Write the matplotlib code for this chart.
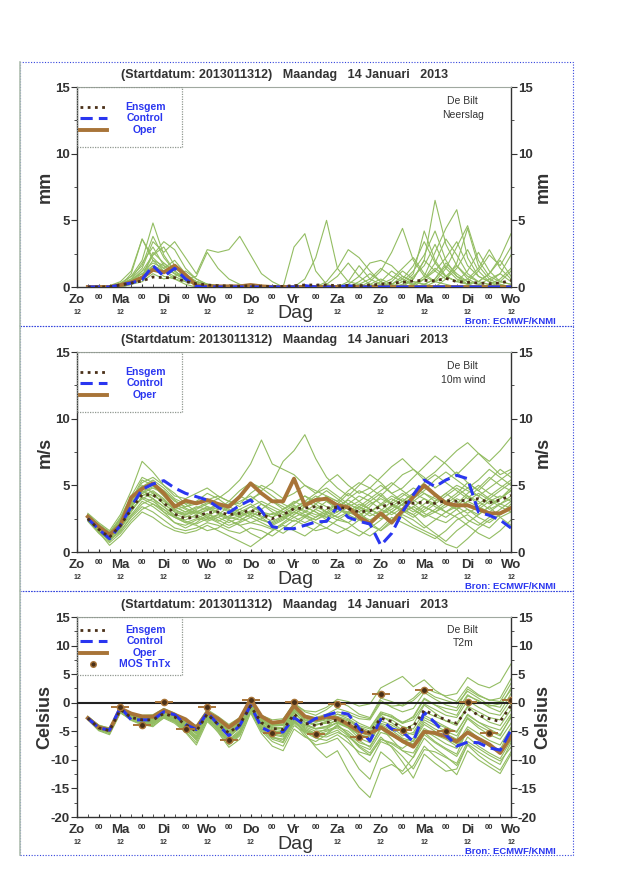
import matplotlib
matplotlib.use("Agg")
import matplotlib.pyplot as plt
from matplotlib.patches import Rectangle
from matplotlib.lines import Line2D
from matplotlib.transforms import blended_transform_factory
import numpy as np

plt.rcParams['font.family'] = ['Liberation Sans', 'DejaVu Sans']
plt.rcParams['axes.unicode_minus'] = False

# forecast hours (6-hourly from start 2013011312)
hours = np.arange(6, 241, 6)
tick_hours = np.arange(0, 241, 12)
day_names = ['Zo', 'Ma', 'Di', 'Wo', 'Do', 'Vr', 'Za', 'Zo', 'Ma', 'Di', 'Wo']

title = '(Startdatum: 2013011312)   Maandag   14 Januari   2013'

# ---------------- Neerslag (mm) ----------------
rain_members = [
    [0, 0, 0, 0.2, 0.8, 2.0, 4.8, 2.4, 1.2, 0.6, 0.2, 0.1, 0, 0, 0, 0, 0, 0, 0, 0,
     0, 0, 0, 0, 0, 0, 0, 0.2, 0.6, 1.4, 2.2, 1.0, 0.4, 0.8, 1.6, 0.6, 0.2, 0, 0.4, 1.2],
    [0, 0, 0.1, 0.4, 1.2, 3.6, 2.2, 1.4, 2.0, 1.0, 0.4, 0.2, 0.1, 0, 0, 0, 0, 0, 0, 0,
     0, 0, 0, 0, 0, 0, 0.4, 1.2, 2.6, 4.4, 2.0, 0.8, 0.4, 0.2, 0, 0, 0, 0, 0, 0],
    [0, 0, 0, 0.1, 0.6, 1.4, 3.4, 2.6, 3.4, 2.2, 1.0, 2.8, 2.6, 2.8, 3.8, 2.4, 1.0, 0.4, 0, 0,
     0, 0, 0, 0, 0, 0, 0, 0, 0, 0, 0.2, 0.6, 1.4, 0.8, 0.4, 0.2, 0, 0, 0, 0],
    [0, 0, 0, 0, 0.2, 0.6, 1.6, 1.2, 0.8, 0.4, 0.2, 0, 0, 0, 0, 0, 0, 0, 0, 3.0,
     4.0, 1.2, 0.2, 0, 0, 0.4, 1.0, 0.4, 0, 0, 0, 0.6, 1.8, 3.6, 2.4, 1.0, 0.4, 0.2, 0, 0],
    [0, 0, 0, 0.2, 0.4, 0.8, 2.6, 1.8, 1.2, 0.6, 0.2, 0, 0, 0, 0, 0, 0, 0, 0, 0,
     0.6, 2.2, 5.0, 1.4, 0.4, 0.2, 0, 0, 0.4, 1.2, 0.6, 2.0, 6.5, 3.2, 1.6, 0.8, 0.4, 1.0, 2.2, 4.0],
    [0, 0, 0, 0.1, 1.0, 3.6, 2.0, 1.2, 0.6, 0.2, 0, 0, 0, 0, 0, 0, 0, 0, 0, 0,
     0, 0, 0.4, 1.4, 2.8, 2.2, 1.2, 0.4, 0, 0, 0.2, 0.8, 2.6, 4.4, 5.8, 2.2, 0.8, 0.4, 0.2, 0],
    [0, 0, 0, 0, 0.2, 0.8, 2.4, 3.4, 2.8, 1.4, 0.6, 0.2, 0, 0, 0, 0, 0, 0, 0, 0,
     0, 0, 0, 0, 0.2, 0.8, 1.8, 2.0, 1.6, 0.8, 0.4, 0.2, 0, 0.6, 1.8, 4.4, 1.6, 0.6, 0.2, 0],
    [0, 0, 0, 0.1, 0.4, 1.2, 1.8, 1.4, 1.0, 0.8, 0.4, 0.2, 0.1, 0, 0, 0, 0, 0, 0, 0,
     0, 0, 0, 0, 0, 0, 0, 0, 0.2, 0.6, 1.6, 3.4, 1.8, 0.8, 0.4, 0.6, 1.4, 2.8, 1.4, 0.6],
    [0, 0, 0, 0.3, 0.8, 1.6, 3.8, 2.2, 1.2, 0.6, 0.2, 0.1, 0, 0, 0, 0, 0, 0, 0, 0,
     0, 0, 0, 0, 0, 0, 0, 0.4, 1.2, 0.6, 0.2, 0, 0.4, 1.4, 3.0, 4.6, 2.0, 0.8, 0.4, 0.2],
    [0, 0, 0, 0.2, 0.6, 1.0, 1.4, 0.8, 0.6, 0.4, 0.2, 0.1, 0, 0, 0, 0, 0, 0, 0, 0,
     0, 0, 0, 0, 0, 0, 0, 0, 0, 0.4, 1.2, 2.4, 4.2, 2.0, 0.8, 0.2, 0, 0.2, 0.6, 1.4],
    [0, 0, 0, 0, 0.2, 0.4, 1.0, 0.6, 0.8, 1.2, 0.6, 0.2, 0, 0, 0, 0, 0, 0, 0, 0,
     0, 0, 0, 0, 0, 0, 0, 0, 0, 0, 0, 0.2, 0.6, 1.6, 0.8, 0.4, 1.2, 2.4, 1.6, 3.0],
    [0, 0, 0, 0.1, 0.4, 0.8, 2.0, 1.6, 1.0, 0.6, 0.4, 0.2, 0.1, 0, 0, 0, 0, 0, 0, 0,
     0, 0, 0, 0, 0.4, 1.6, 0.6, 0.2, 0, 0, 0.6, 2.0, 1.2, 0.6, 1.4, 2.8, 1.2, 0.4, 0, 0],
    [0, 0, 0, 0.1, 0.5, 1.2, 2.4, 3.0, 1.6, 0.8,
     0.4, 0.2, 0, 0, 0, 0, 0, 0, 0, 0,
     0, 0, 0, 0, 0, 0, 0, 0, 0.2, 0.8,
     0.4, 0.2, 0.6, 1.8, 1.0, 0.4, 0.2, 0.6, 1.0, 0.4],
    [0, 0, 0, 0.2, 0.6, 1.8, 3.0, 1.6, 1.0, 0.6,
     0.8, 2.6, 1.4, 0.6, 0.2, 0, 0, 0, 0, 0,
     0, 0, 0, 0, 0, 0, 0.2, 0.6, 0.2, 0,
     0.8, 1.6, 3.2, 1.4, 0.6, 0.2, 0.4, 1.0, 2.0, 0.8],
    [0, 0, 0, 0.1, 0.4, 1.0, 1.6, 1.2, 1.4, 0.8,
     0.3, 0.1, 0, 0, 0, 0, 0, 0, 0, 0,
     0, 0, 0.2, 0.8, 1.8, 0.8, 0.2, 0, 0, 0.2,
     1.0, 4.2, 2.0, 0.8, 0.4, 1.2, 2.6, 1.2, 0.4, 0.2],
    [0, 0, 0, 0, 0.3, 0.6, 1.2, 1.8, 1.0, 0.5,
     0.2, 0, 0, 0, 0, 0, 0, 0, 0, 0,
     0, 0, 0, 0, 0, 0.2, 0.6, 1.4, 0.8, 0.4,
     0.2, 0.6, 1.2, 2.2, 3.4, 1.6, 0.8, 0.4, 1.0, 2.4],
]
rain_mean = [0, 0, 0.02, 0.15, 0.3, 0.45, 0.75, 0.7, 0.7, 0.4,
             0.25, 0.15, 0.1, 0.08, 0.05, 0.1, 0.05, 0.03, 0.05, 0.1,
             0.15, 0.15, 0.15, 0.1, 0.12, 0.1, 0.15, 0.2, 0.3, 0.35,
             0.45, 0.5, 0.45, 0.65, 0.4, 0.35, 0.3, 0.25, 0.3, 0.5]
rain_control = [0, 0, 0, 0.15, 0.3, 0.55, 1.6, 0.8, 1.4, 0.6,
                0.05, 0, 0, 0, 0, 0, 0, 0, 0, 0,
                0.1, 0, 0, 0, 0.1, 0, 0, 0, 0, 0,
                0, 0, 0, 0, 0, 0, 0, 0, 0, 0]
rain_oper = [0, 0, 0, 0.15, 0.35, 0.7, 1.3, 1.1, 1.6, 0.9,
             0.1, 0.05, 0.05, 0.05, 0.05, 0.15, 0.05, 0, 0, 0,
             0, 0, 0, 0, 0, 0, 0, 0, 0, 0,
             0, 0, 0, 0, 0, 0, 0, 0, 0, 0]

# ---------------- 10m wind (m/s) ----------------
wind_members = [
    [2.8, 2.0, 1.4, 2.6, 4.2, 5.6, 5.2, 4.6, 3.8, 3.4, 3.6, 3.9, 4.2, 3.8, 3.6, 4.4, 5.0, 4.6, 4.0, 4.4,
     5.0, 4.6, 4.2, 3.8, 4.6, 5.2, 4.8, 4.2, 5.0, 5.8, 6.2, 5.6, 4.8, 5.4, 6.0, 5.2, 4.6, 5.4, 6.2, 5.6],
    [2.4, 1.5, 0.9, 1.6, 2.6, 3.4, 3.0, 2.4, 1.8, 1.6, 1.8, 2.2, 2.0, 1.6, 1.4, 1.8, 1.6, 1.2, 1.8, 2.4,
     2.0, 1.6, 1.8, 2.4, 2.2, 1.6, 1.2, 1.8, 2.6, 2.2, 1.8, 1.4, 1.0, 1.6, 2.4, 2.8, 2.2, 1.8, 2.6, 3.0],
    [2.6, 1.8, 1.2, 2.2, 3.8, 5.0, 4.4, 3.6, 3.0, 2.8, 3.2, 3.6, 4.0, 4.6, 5.4, 6.6, 8.4, 6.6, 6.2, 5.8,
     5.0, 4.4, 4.8, 4.2, 3.6, 3.2, 3.8, 4.4, 3.6, 3.0, 3.4, 4.0, 3.6, 3.0, 3.4, 4.2, 3.8, 3.2, 3.6, 4.0],
    [2.5, 1.6, 1.0, 1.8, 3.0, 4.2, 4.6, 4.0, 3.2, 2.8, 3.0, 3.4, 3.2, 3.6, 4.2, 3.8, 4.6, 5.2, 6.8, 7.6,
     8.8, 7.0, 5.6, 4.8, 4.2, 5.0, 5.8, 5.2, 4.4, 4.8, 5.6, 6.4, 7.2, 6.6, 5.8, 6.6, 7.4, 6.8, 7.6, 8.6],
    [2.3, 1.4, 0.7, 1.4, 2.4, 3.2, 3.6, 3.2, 2.6, 2.2, 2.0, 1.6, 1.8, 2.4, 2.0, 1.4, 1.0, 1.6, 2.2, 2.8,
     3.4, 3.0, 2.4, 2.8, 3.4, 3.0, 2.2, 1.6, 2.4, 3.2, 2.8, 2.0, 1.4, 0.8, 1.6, 2.2, 2.8, 3.4, 2.6, 2.0],
    [2.9, 2.2, 1.6, 2.8, 4.6, 6.8, 6.0, 5.0, 4.2, 4.0, 4.4, 4.8, 4.2, 3.8, 4.6, 5.2, 4.8, 4.2, 3.6, 3.2,
     3.8, 4.4, 5.2, 5.8, 5.0, 4.4, 4.8, 5.6, 6.4, 7.0, 6.2, 5.4, 6.0, 6.8, 7.6, 8.2, 7.4, 6.6, 5.8, 6.2],
    [2.7, 1.9, 1.3, 2.4, 3.6, 4.6, 4.0, 3.0, 2.2, 1.8, 2.2, 2.8, 2.6, 2.2, 2.6, 3.0, 2.6, 2.0, 2.4, 3.0,
     2.6, 3.2, 3.8, 3.4, 2.8, 2.4, 3.0, 3.6, 4.2, 3.8, 3.2, 2.6, 3.0, 3.6, 3.2, 2.4, 2.0, 2.6, 3.2, 3.8],
    [2.5, 1.7, 1.2, 2.2, 3.4, 4.8, 5.0, 4.2, 3.4, 3.0, 3.4, 3.2, 3.6, 3.2, 2.8, 3.4, 3.0, 2.6, 3.2, 3.8,
     3.4, 3.0, 2.6, 3.2, 4.0, 4.6, 4.2, 3.6, 3.0, 3.6, 4.2, 4.8, 4.4, 3.8, 4.4, 5.2, 4.6, 4.0, 4.6, 5.2],
    [2.4, 1.6, 1.0, 1.8, 2.8, 3.8, 3.4, 2.8, 2.2, 2.0, 2.4, 2.6, 2.2, 1.8, 2.2, 2.6, 2.2, 1.8, 1.4, 2.0,
     2.6, 2.2, 1.8, 1.4, 1.8, 2.4, 2.0, 1.6, 2.2, 2.8, 2.4, 1.8, 2.4, 3.0, 2.6, 2.0, 1.4, 1.0, 1.6, 2.4],
    [2.6, 1.8, 1.1, 2.0, 3.4, 4.4, 4.8, 4.4, 3.6, 3.2, 2.8, 2.4, 2.8, 3.4, 3.0, 2.6, 3.2, 3.8, 3.4, 2.8,
     3.4, 4.0, 4.6, 4.0, 3.4, 3.8, 4.4, 5.0, 4.4, 3.8, 4.4, 5.2, 5.8, 5.2, 4.6, 4.0, 4.8, 5.6, 5.0, 4.6],
    [2.8, 2.1, 1.5, 2.5, 3.9, 5.2, 5.6, 5.0, 4.4, 3.6, 3.0, 2.6, 3.2, 3.8, 3.4, 4.0, 4.4, 3.8, 3.2, 3.6,
     4.2, 3.6, 3.0, 3.6, 4.4, 3.8, 3.2, 2.8, 3.4, 4.0, 3.6, 3.0, 3.6, 4.2, 4.8, 4.2, 3.6, 4.2, 4.8, 5.4],
    [2.4, 1.5, 0.5, 1.2, 2.2, 3.0, 2.6, 2.0, 1.6, 1.4, 1.6, 2.0, 1.6, 1.2, 0.8, 0.4, 1.0, 1.6, 2.0, 1.6,
     1.2, 1.8, 2.4, 2.0, 1.6, 1.2, 1.8, 2.4, 3.0, 2.6, 2.0, 1.6, 1.2, 0.6, 0.3, 1.0, 1.8, 2.4, 2.8, 3.4],
    [2.6, 1.8, 1.3, 2.3, 3.6, 4.6, 4.2, 3.8, 3.2, 3.4, 3.8, 4.4, 4.0, 3.4, 3.8, 4.2, 3.6, 3.0, 2.6, 3.0,
     3.6, 4.2, 3.8, 3.2, 2.8, 3.4, 4.0, 4.6, 5.2, 4.6, 4.0, 4.6, 5.4, 6.0, 5.4, 4.8, 5.4, 6.2, 5.6, 5.0],
    [2.7, 1.9, 1.2, 2.1, 3.2, 4.0, 3.6, 3.0, 2.6, 2.4, 2.8, 3.2, 3.0, 2.6, 2.4, 2.8, 2.4, 2.2, 2.6, 3.2,
     2.8, 2.4, 2.8, 3.2, 3.0, 2.6, 3.4, 4.2, 3.6, 3.2, 2.8, 3.4, 3.0, 2.6, 3.2, 3.8, 3.4, 3.0, 3.6, 4.2],
    [2.6, 1.7, 1.0, 1.9, 3.3, 4.5, 4.9, 4.6, 3.9, 3.3,
     2.9, 3.1, 3.5, 3.1, 2.7, 3.0, 3.6, 3.2, 2.8, 3.3,
     3.8, 3.4, 3.0, 2.6, 3.0, 3.6, 3.2, 2.8, 3.2, 3.8,
     4.4, 4.0, 3.4, 3.0, 3.6, 4.4, 5.0, 4.4, 4.0, 4.6],
    [2.5, 1.6, 0.8, 1.7, 3.1, 4.1, 3.8, 3.2, 2.6, 2.2,
     2.5, 2.9, 2.4, 2.0, 2.3, 2.9, 2.7, 2.3, 2.7, 3.4,
     3.0, 2.6, 3.2, 3.6, 3.2, 2.8, 2.4, 2.9, 3.5, 3.1,
     2.6, 3.2, 3.8, 4.4, 3.8, 3.2, 2.8, 3.4, 4.0, 4.6],
    [2.7, 2.0, 1.4, 2.4, 3.9, 5.4, 5.0, 4.2, 3.4, 3.0,
     3.3, 3.7, 3.4, 3.0, 3.2, 3.6, 3.0, 2.8, 3.2, 3.7,
     4.2, 3.8, 3.4, 3.0, 3.6, 4.2, 3.8, 3.2, 2.8, 3.3,
     3.8, 4.4, 4.0, 3.6, 4.2, 4.8, 4.2, 3.6, 4.0, 4.8],
    [2.4, 1.5, 0.9, 1.5, 2.7, 3.6, 4.0, 3.4, 2.7, 2.3,
     2.1, 2.5, 2.8, 2.4, 2.0, 2.2, 2.0, 1.7, 2.1, 2.6,
     2.2, 2.6, 3.0, 2.6, 2.2, 2.8, 3.2, 2.7, 2.3, 2.9,
     3.4, 2.9, 2.5, 2.2, 2.8, 3.2, 2.6, 2.2, 2.8, 3.6],
    [2.8, 2.0, 1.3, 2.3, 3.7, 4.9, 5.4, 4.8, 4.0, 3.6,
     3.8, 3.4, 3.0, 2.6, 3.0, 3.4, 3.8, 3.4, 3.0, 2.6,
     3.0, 3.6, 4.2, 3.8, 3.2, 3.0, 3.6, 4.0, 3.6, 4.2,
     4.8, 4.4, 3.8, 4.4, 5.0, 4.6, 4.2, 4.8, 5.4, 6.0],
    [2.6, 1.8, 1.2, 2.1, 3.5, 4.4, 4.0, 3.4, 2.8, 2.6,
     3.0, 3.3, 2.9, 2.5, 2.7, 3.1, 2.9, 2.6, 3.0, 3.5,
     3.1, 2.8, 2.6, 3.0, 3.6, 3.2, 2.7, 3.1, 3.8, 4.4,
     3.9, 3.4, 3.0, 3.4, 4.0, 3.6, 3.2, 3.8, 4.2, 3.8],
    [2.5, 1.7, 1.1, 2.0, 3.2, 4.0, 4.4, 3.6, 3.0, 2.7,
     2.6, 2.3, 2.6, 3.0, 2.6, 2.2, 2.5, 2.9, 2.6, 2.3,
     2.7, 3.2, 2.8, 2.4, 2.9, 3.4, 3.0, 3.5, 4.0, 3.5,
     3.0, 3.6, 4.2, 3.7, 3.2, 3.8, 4.4, 3.9, 3.4, 3.0],
    [2.7, 1.9, 1.2, 2.2, 3.5, 4.8, 4.5, 3.9, 3.1, 2.9,
     3.1, 2.7, 2.3, 2.7, 3.2, 2.8, 2.4, 2.1, 2.5, 3.0,
     2.7, 2.4, 2.9, 3.4, 3.9, 3.4, 2.9, 2.5, 3.0, 3.6,
     3.2, 2.7, 3.2, 3.8, 3.4, 2.9, 3.4, 4.0, 3.6, 3.3],
]
wind_mean = [2.5, 1.7, 1.1, 2.0, 3.2, 4.3, 4.3, 3.7, 2.85, 2.5,
             2.65, 2.95, 3.0, 2.8, 2.9, 3.15, 2.8, 2.5, 2.8, 3.25,
             3.3, 3.4, 3.3, 3.35, 3.25, 3.0, 3.1, 3.4, 3.6, 3.75,
             3.65, 3.75, 3.65, 3.85, 3.8, 3.9, 4.0, 3.7, 3.9, 4.25]
wind_control = [2.5, 1.7, 1.0, 2.0, 3.4, 4.7, 5.1, 5.35, 4.8, 4.4,
                4.15, 3.9, 3.35, 2.95, 3.5, 3.9, 3.1, 1.9, 1.75, 1.75,
                2.0, 2.25, 2.3, 3.4, 2.6, 2.3, 2.1, 0.5, 1.4, 3.0,
                4.3, 5.4, 4.9, 5.4, 5.75, 5.5, 3.0, 2.75, 2.4, 1.8]
wind_oper = [2.65, 1.9, 1.3, 2.0, 4.1, 4.75, 5.15, 4.4, 3.4, 3.85,
             3.65, 3.9, 3.6, 3.4, 4.15, 5.15, 4.4, 3.8, 3.8, 5.5,
             3.5, 3.9, 4.0, 3.5, 3.35, 2.6, 2.15, 2.9, 2.2, 3.1,
             4.15, 5.0, 4.3, 3.65, 3.5, 3.5, 3.2, 2.9, 2.9, 3.3]

# ---------------- T2m (Celsius) ----------------
temp_members = [
    [-2.9, -4.6, -5.2, -1.3, -2.2, -2.8, -2.9, -1.6, -2.6, -3.5, -5.0, -1.9, -3.4, -5.5, -3.6, -0.2, -3.0, -4.2, -4.4, -1.2,
     -3.1, -3.8, -3.6, -3.2, -4.1, -5.6, -6.3, -4.0, -5.2, -6.6, -7.2, -4.5, -5.6, -6.4, -7.6, -5.0, -6.1, -7.4, -8.6, -6.2],
    [-2.4, -3.9, -4.5, -0.9, -2.0, -2.4, -2.6, -1.2, -2.0, -3.2, -4.4, -1.5, -3.0, -4.6, -3.1, 0.3, -2.6, -3.6, -3.5, -0.8,
     -2.2, -2.6, -2.0, -1.0, -1.6, -2.4, -2.8, 0.4, -0.8, -1.6, -1.0, 1.8, 0.6, -0.4, -0.9, 2.4, 1.2, 0.5, 0.2, 3.4],
    [-3.0, -4.9, -5.6, -1.8, -2.9, -3.6, -3.7, -2.4, -3.2, -4.6, -6.2, -2.6, -4.4, -6.6, -5.0, -1.2, -4.8, -6.4, -7.0, -3.6,
     -5.8, -7.4, -7.0, -6.2, -8.5, -11.6, -13.4, -8.6, -10.2, -12.5, -11.0, -7.6, -9.4, -10.8, -12.6, -8.4, -10.0, -11.2, -12.4, -9.0],
    [-2.6, -4.2, -4.6, -0.9, -2.4, -3.1, -3.3, -2.0, -2.9, -4.2, -5.8, -2.3, -3.9, -6.0, -4.4, -0.6, -3.6, -5.0, -5.6, -2.4,
     -4.0, -4.6, -4.2, -2.8, -3.6, -5.2, -5.8, -2.2, -3.5, -4.8, -3.8, -0.4, -1.8, -3.2, -4.0, -0.8, -2.2, -3.4, -4.0, -1.2],
    [-2.8, -4.5, -5.0, -1.4, -2.8, -3.4, -3.2, -2.2, -3.0, -4.5, -6.6, -2.8, -4.6, -7.2, -5.6, -1.0, -4.6, -6.0, -6.8, -3.0,
     -5.4, -7.8, -9.6, -8.4, -12.0, -14.8, -16.6, -11.6, -10.8, -12.0, -9.5, -5.2, -6.8, -8.0, -9.0, -4.6, -6.2, -7.6, -8.2, -4.4],
    [-2.5, -4.0, -4.6, -1.0, -2.0, -2.2, -2.1, -1.0, -1.8, -3.0, -4.0, -1.2, -2.4, -3.8, -2.6, 0.6, -2.2, -3.0, -2.8, -0.2,
     -1.4, -1.6, -0.8, 0.6, 0.2, -0.6, -0.2, 2.6, 3.6, 4.6, 2.8, 4.0, 2.2, 1.0, 0.2, 2.8, 1.4, 0.4, 0.8, 4.2],
    [-2.8, -4.8, -5.4, -1.6, -3.0, -3.8, -4.2, -2.6, -3.4, -5.0, -7.0, -3.0, -5.2, -7.8, -6.4, -1.8, -5.4, -7.6, -8.4, -4.6,
     -6.0, -6.8, -5.6, -4.0, -5.4, -7.0, -7.6, -4.4, -6.4, -8.4, -9.6, -6.2, -8.0, -9.4, -11.0, -7.4, -9.2, -10.6, -11.8, -8.6],
    [-2.6, -4.3, -4.8, -1.1, -2.3, -2.7, -2.6, -1.4, -2.2, -3.3, -4.5, -1.6, -3.2, -4.9, -3.4, 0.1, -2.8, -3.8, -3.8, -1.0,
     -2.5, -3.0, -2.4, -1.6, -2.0, -2.8, -3.0, 0.0, -0.6, -0.4, 0.8, 2.6, 1.8, 1.2, 1.6, 4.4, 3.2, 2.6, 3.6, 6.8],
    [-2.7, -4.4, -5.0, -1.5, -2.7, -3.3, -3.5, -2.3, -2.8, -4.4, -6.0, -2.6, -4.2, -6.8, -5.2, -1.4, -4.2, -5.4, -5.8, -2.8,
     -4.4, -5.4, -5.6, -4.8, -6.4, -9.0, -10.4, -6.8, -7.6, -9.4, -11.6, -8.2, -8.6, -9.6, -10.6, -6.8, -8.0, -9.2, -10.2, -7.8],
    [-2.5, -4.1, -4.7, -1.1, -2.5, -3.0, -3.1, -1.8, -2.6, -3.9, -5.4, -2.1, -3.7, -5.8, -4.4, -0.8, -3.8, -5.2, -5.0, -1.8,
     -3.4, -4.0, -3.2, -2.0, -2.4, -3.6, -4.4, -1.6, -2.2, -3.6, -2.4, 0.8, -0.4, -1.6, -2.2, 1.2, 0.4, -0.8, -1.6, 1.6],
    [-2.9, -4.7, -5.3, -1.7, -3.1, -3.9, -4.0, -2.7, -3.6, -5.2, -7.4, -3.3, -5.0, -7.4, -5.8, -1.6, -5.0, -6.8, -7.6, -4.0,
     -5.2, -6.2, -6.6, -5.6, -7.0, -8.6, -9.2, -6.4, -7.0, -8.0, -6.6, -3.4, -4.6, -5.4, -6.4, -2.6, -4.0, -5.0, -5.8, -2.4],
    [-2.7, -4.5, -5.0, -1.3, -2.6, -3.2, -3.0, -1.7, -2.4, -3.6, -5.2, -1.8, -3.6, -5.4, -4.0, -0.4, -3.2, -4.4, -4.6, -1.6,
     -3.6, -4.6, -4.4, -3.4, -4.4, -6.2, -7.0, -3.6, -4.2, -5.8, -5.2, -2.2, -3.2, -4.2, -5.2, -2.0, -3.4, -4.6, -5.6, -2.6],
    [-2.4, -4.0, -4.4, -0.8, -2.1, -2.6, -2.8, -1.5, -2.2, -3.4, -4.6, -1.8, -3.4, -5.0, -3.6, 0.2, -2.4, -3.4, -3.0, 0.0,
     -1.6, -2.2, -1.2, 0.2, -0.6, -2.0, -2.6, 0.8, 0.2, -0.6, 0.4, 2.2, 1.0, 0.4, -0.2, 2.0, 0.8, -0.4, -0.8, 2.6],
    [-2.8, -4.6, -5.1, -1.4, -2.8, -3.5, -3.6, -2.4, -3.2, -4.8, -6.4, -2.8, -4.8, -7.0, -5.4, -1.0, -4.4, -6.2, -6.4, -3.2,
     -5.0, -6.0, -5.4, -3.8, -5.6, -7.6, -8.8, -6.0, -7.8, -10.4, -13.2, -9.0, -10.6, -12.0, -11.6, -7.2, -8.6, -9.8, -10.8, -7.0],
    [-2.6, -4.3, -4.7, -1.1, -2.4, -2.9, -3.0, -1.8, -2.5, -3.7,
     -4.9, -1.9, -3.6, -5.2, -3.7, -0.5, -3.4, -4.6, -4.9, -2.2,
     -3.9, -4.5, -4.1, -3.6, -4.4, -5.6, -6.0, -3.2, -3.9, -5.0,
     -5.6, -2.6, -3.6, -4.4, -5.0, -2.2, -3.4, -4.2, -4.8, -2.0],
    [-2.8, -4.5, -5.0, -1.2, -2.7, -3.2, -3.4, -2.1, -2.8, -4.1,
     -5.4, -2.4, -4.0, -5.9, -4.4, -0.9, -3.9, -5.0, -5.2, -2.5,
     -4.2, -5.0, -4.8, -4.2, -5.0, -6.6, -7.8, -4.6, -5.6, -7.0,
     -7.8, -4.8, -6.0, -7.2, -8.0, -5.0, -6.4, -7.6, -8.6, -5.8],
    [-2.5, -4.2, -4.8, -1.0, -2.3, -2.8, -2.7, -1.5, -2.3, -3.6,
     -4.7, -1.8, -3.5, -5.1, -3.5, -0.3, -3.1, -4.0, -4.0, -1.4,
     -3.0, -3.4, -2.8, -2.0, -2.8, -4.0, -4.6, -1.8, -2.6, -3.6,
     -3.0, -0.2, -1.2, -2.2, -2.6, 0.4, -0.8, -1.8, -2.2, 0.6],
    [-2.7, -4.4, -4.9, -1.3, -2.6, -3.1, -3.2, -2.0, -2.7, -4.0,
     -5.2, -2.2, -3.9, -5.6, -4.2, -0.8, -3.7, -4.8, -5.4, -2.6,
     -4.6, -5.8, -6.0, -5.2, -6.0, -7.4, -8.2, -5.2, -5.8, -6.8,
     -6.2, -3.0, -4.0, -5.0, -5.8, -2.8, -4.4, -5.6, -6.4, -3.6],
    [-2.6, -4.2, -4.6, -1.0, -2.2, -2.6, -2.6, -1.4, -2.2, -3.4,
     -4.6, -1.7, -3.3, -4.9, -3.3, 0.0, -2.9, -3.9, -3.9, -1.2,
     -2.8, -3.4, -3.0, -2.4, -3.0, -4.2, -5.0, -2.0, -2.4, -3.4,
     -2.6, 0.6, -0.4, -1.0, -1.4, 1.4, 0.2, -0.6, -0.2, 2.2],
    [-2.8, -4.5, -5.1, -1.5, -2.9, -3.4, -3.5, -2.2, -3.0, -4.3,
     -5.8, -2.6, -4.3, -6.4, -4.8, -1.2, -4.1, -5.6, -6.0, -3.0,
     -4.8, -5.4, -4.6, -3.4, -4.2, -5.6, -6.4, -3.8, -4.8, -6.2,
     -6.8, -3.8, -5.0, -6.2, -7.2, -4.2, -5.4, -6.6, -7.4, -4.4],
    [-2.7, -4.3, -4.8, -1.1, -2.5, -2.9, -2.9, -1.7, -2.4, -3.7,
     -5.0, -1.9, -3.7, -5.4, -3.9, -0.5, -3.3, -4.4, -4.5, -1.8,
     -3.4, -3.8, -3.4, -2.6, -3.2, -4.4, -5.4, -2.6, -3.0, -4.2,
     -4.6, -1.6, -2.4, -3.2, -3.6, -0.6, -1.6, -2.6, -3.0, -0.2],
    [-2.9, -4.7, -5.3, -1.6, -3.0, -3.6, -3.8, -2.5, -3.3, -4.7,
     -6.2, -2.9, -4.6, -6.8, -5.2, -1.4, -4.6, -6.0, -6.4, -3.4,
     -5.0, -5.6, -5.0, -4.4, -5.8, -7.8, -9.2, -6.4, -7.2, -8.4,
     -8.8, -5.6, -7.0, -8.2, -9.4, -6.0, -7.6, -8.8, -9.8, -6.6],
]
temp_mean = [-2.7, -4.4, -4.9, -1.2, -2.6, -3.0, -3.0, -1.9, -2.5, -3.8,
             -5.0, -2.0, -3.8, -5.3, -3.8, -0.6, -3.5, -4.5, -4.7, -2.0,
             -3.6, -4.0, -3.5, -3.0, -3.5, -4.6, -5.2, -2.7, -3.3, -4.5,
             -4.2, -1.3, -2.2, -3.0, -3.6, -1.0, -2.2, -2.8, -3.3, -0.5]
temp_control = [-2.7, -4.4, -4.8, -0.8, -3.0, -3.0, -3.0, -1.6, -2.1, -3.8,
                -4.7, -1.7, -3.8, -5.8, -4.0, -0.5, -4.3, -5.3, -5.1, -2.6,
                -3.9, -2.75, -2.2, -1.65, -2.0, -4.5, -6.7, -2.9, -4.6, -5.1,
                -6.8, -1.7, -3.5, -5.6, -7.6, -6.9, -7.0, -7.9, -8.3, -4.8]
temp_oper = [-2.7, -4.3, -4.8, -1.0, -1.9, -2.4, -2.45, -1.3, -2.1, -2.9,
             -4.4, -1.7, -2.8, -4.3, -2.9, 0.6, -2.4, -3.5, -3.3, -0.5,
             -2.4, -2.95, -2.45, -2.75, -3.8, -5.0, -5.35, -4.3, -5.5, -6.7,
             -7.7, -5.1, -5.3, -5.9, -6.8, -5.2, -6.3, -7.3, -8.8, -5.9]
mos_hours = [24, 36, 48, 60, 72, 84, 96, 108, 120, 132, 144, 156, 168, 180, 192, 204, 216, 228, 240]
mos_tntx = [-0.7, -3.9, 0.2, -4.6, -0.8, -6.5, 0.4, -5.35, 0.2, -5.5,
            -0.3, -5.95, 1.6, -4.8, 2.2, -5.0, 0.2, -5.35, 0.5]

GREEN = '#93bd62'
BLUE = '#2a36f0'
BROWN = '#a87438'
DARK = '#4a3018'
TXT = '#333333'

panels = [
    dict(members=rain_members, mean=rain_mean, control=rain_control, oper=rain_oper,
         ylim=(0, 15), yticks=[0, 5, 10, 15], unit='mm', name='Neerslag',
         rect=[77, 87, 511, 287], box=(62, 326), title_y=75),
    dict(members=wind_members, mean=wind_mean, control=wind_control, oper=wind_oper,
         ylim=(0, 15), yticks=[0, 5, 10, 15], unit='m/s', name='10m wind',
         rect=[77, 352, 511, 552], box=(326, 591), title_y=340),
    dict(members=temp_members, mean=temp_mean, control=temp_control, oper=temp_oper,
         ylim=(-20, 15), yticks=[-20, -15, -10, -5, 0, 5, 10, 15], unit='Celsius', name='T2m',
         rect=[77, 617, 511, 817], box=(591, 855), title_y=605),
]

W, H = 640, 880
fig = plt.figure(figsize=(W / 100, H / 100), dpi=100)

for i, p in enumerate(panels):
    x0, y0, x1, y1 = p['rect']
    ax = fig.add_axes([x0 / W, 1 - y1 / H, (x1 - x0) / W, (y1 - y0) / H])

    # surrounding dotted frame
    b0, b1 = p['box']
    fig.patches.append(Rectangle((20 / W, 1 - b1 / H), 553 / W, (b1 - b0) / H,
                                 transform=fig.transFigure, fill=False,
                                 edgecolor='#3344dd', linestyle=(0, (1, 1.5)), lw=0.8))
    fig.lines.append(Line2D([20 / W, 20 / W], [1 - b1 / H, 1 - b0 / H],
                            transform=fig.transFigure, color='#b0bfb0', lw=1.2))

    for m in p['members']:
        ax.plot(hours, m, color=GREEN, lw=0.8, zorder=2)
    if i == 2:
        ax.axhline(0, color='#222222', lw=1.5, zorder=3)
    ax.plot(hours, p['mean'], color=DARK, lw=2.0, linestyle=(0, (1, 1.6)), zorder=5)
    ax.plot(hours, p['oper'], color=BROWN, lw=2.8, zorder=4)
    ax.plot(hours, p['control'], color=BLUE, lw=2.2, linestyle=(0, (4, 2)), zorder=4)
    if i == 2:
        ax.errorbar(mos_hours, mos_tntx, xerr=5, fmt='o', ms=4.5, color=BROWN,
                    mfc=DARK, mec=BROWN, ecolor=BROWN, elinewidth=1.4, capsize=0, zorder=6)

    ax.set_xlim(0, 240)
    ax.set_ylim(*p['ylim'])
    ax.set_yticks(p['yticks'])
    ax.set_yticks(np.arange(p['ylim'][0], p['ylim'][1] + 0.1, 2.5), minor=True)
    ax.tick_params(axis='y', which='major', direction='out', length=4, left=True, right=True,
                   labelleft=True, labelright=True, labelsize=9.5, colors=TXT, pad=1)
    ax.tick_params(axis='y', which='minor', direction='out', length=2, left=True, right=True,
                   colors=TXT)
    for lab in ax.get_yticklabels():
        lab.set_fontweight('bold')

    ax.set_xticks(tick_hours)
    ax.set_xticks(hours, minor=True)
    labels = []
    for k, h in enumerate(tick_hours):
        labels.append(day_names[k // 2] if k % 2 == 0 else '00')
    ax.set_xticklabels(labels)
    for k, lab in enumerate(ax.get_xticklabels()):
        if k % 2 == 0:
            lab.set_fontsize(9.5)
        else:
            lab.set_fontsize(5.5)
        lab.set_fontweight('bold')
        lab.set_color(TXT)
    ax.tick_params(axis='x', which='both', direction='in', length=2, colors=TXT, pad=5)

    trans = blended_transform_factory(ax.transData, ax.transAxes)
    for k, h in enumerate(tick_hours[::2]):
        if k == 5:
            continue  # 'Dag' stands there
        ax.text(h, -0.127, '12', transform=trans, ha='center', va='center',
                fontsize=5, fontweight='bold', color=TXT)

    for side in ['left', 'right', 'bottom']:
        ax.spines[side].set_color('#333333')
        ax.spines[side].set_linewidth(1.0)
    ax.spines['top'].set_color('#a0a8a0')
    ax.spines['top'].set_linestyle((0, (1, 1)))

    # legend box
    lb = 0.71 if i == 2 else 0.70
    ax.add_patch(Rectangle((0, lb), 0.242, 1 - lb, transform=ax.transAxes, fill=False,
                           edgecolor='#909890', linestyle=(0, (1, 1)), lw=0.9, zorder=7))
    ys = [0.935, 0.88, 0.82, 0.765] if i == 2 else [0.90, 0.845, 0.785]
    styles = [dict(color=DARK, lw=2.0, linestyle=(0, (1, 1.6))),
              dict(color=BLUE, lw=2.2, linestyle=(0, (4, 2))),
              dict(color=BROWN, lw=2.8, linestyle='-')]
    names = ['Ensgem', 'Control', 'Oper']
    for yy, st, nm in zip(ys, styles, names):
        ax.plot([0.007, 0.069], [yy, yy], transform=ax.transAxes, clip_on=False, zorder=8, **st)
        ax.text(0.157, yy, nm, transform=ax.transAxes, ha='center', va='center',
                fontsize=7.5, fontweight='bold', color=BLUE, zorder=8)
    if i == 2:
        ax.plot([0.037], [ys[3]], 'o', ms=4, color=DARK, mec=BROWN, transform=ax.transAxes, zorder=8)
        ax.text(0.157, ys[3], 'MOS TnTx', transform=ax.transAxes, ha='center', va='center',
                fontsize=7.5, fontweight='bold', color=BLUE, zorder=8)

    ty = [0.935, 0.87] if i == 2 else [0.93, 0.86]
    ax.text(0.889, ty[0], 'De Bilt', transform=ax.transAxes, ha='center', va='center',
            fontsize=7.5, color=TXT)
    ax.text(0.889, ty[1], p['name'], transform=ax.transAxes, ha='center', va='center',
            fontsize=7.5, color=TXT)

    # texts around the panel
    cy = 1 - (y0 + y1) / 2 / H
    fig.text(45 / W, cy, p['unit'], rotation=90, ha='center', va='center',
             fontsize=13, fontweight='bold', color=TXT)
    fig.text(543 / W, cy, p['unit'], rotation=90, ha='center', va='center',
             fontsize=13, fontweight='bold', color=TXT)
    fig.text(285 / W, 1 - p['title_y'] / H, title, ha='center', va='center',
             fontsize=9, fontweight='bold', color=TXT)
    fig.text(295 / W, 1 - (y1 + 27) / H, 'Dag', ha='center', va='center',
             fontsize=14, color=TXT)
    fig.text(556 / W, 1 - (y1 + 34.5) / H, 'Bron: ECMWF/KNMI', ha='right', va='center',
             fontsize=6.8, fontweight='bold', color=BLUE)

fig.savefig('out.png', dpi=100)
